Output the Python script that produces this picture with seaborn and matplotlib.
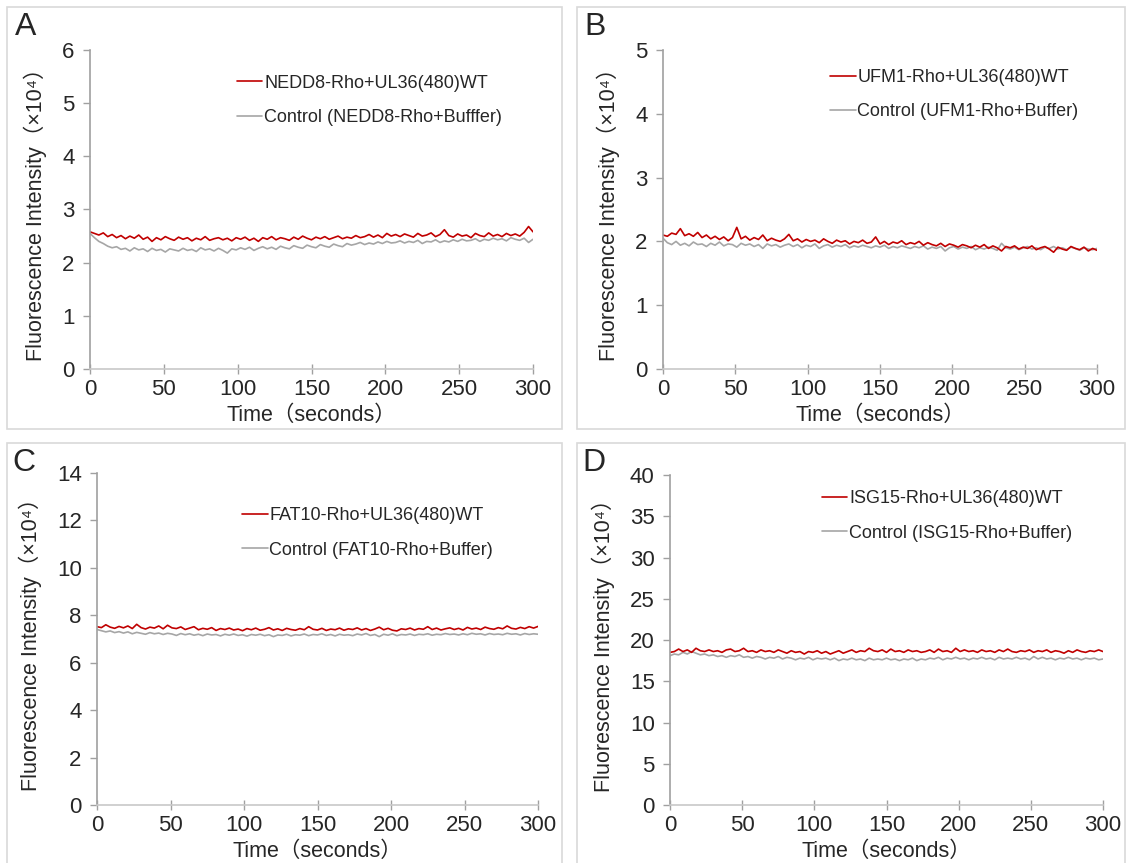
import numpy as np
import pandas as pd
import seaborn as sns
import matplotlib.pyplot as plt
from matplotlib.patches import Rectangle

sns.set_style("white")
plt.rcParams['font.family'] = ['Liberation Sans', 'Noto Sans CJK SC', 'DejaVu Sans']

# time axis, seconds (one reading every 3 s)
time_s = list(range(0, 301, 3))

# panel A : NEDD8
nedd8_wt = [2.58, 2.55, 2.52, 2.56, 2.49, 2.53, 2.47, 2.51, 2.45, 2.50,
            2.46, 2.52, 2.44, 2.48, 2.40, 2.47, 2.43, 2.49, 2.45, 2.42,
            2.48, 2.44, 2.47, 2.41, 2.46, 2.43, 2.49, 2.42, 2.45, 2.47,
            2.43, 2.46, 2.41, 2.47, 2.44, 2.48, 2.42, 2.46, 2.40, 2.47,
            2.44, 2.49, 2.43, 2.47, 2.45, 2.42, 2.48, 2.44, 2.50, 2.46,
            2.43, 2.48, 2.45, 2.49, 2.44, 2.47, 2.50, 2.45, 2.48, 2.46,
            2.51, 2.47, 2.49, 2.53, 2.48, 2.52, 2.47, 2.55, 2.50, 2.53,
            2.49, 2.54, 2.51, 2.48, 2.55, 2.50, 2.52, 2.56, 2.49, 2.53,
            2.62, 2.51, 2.48, 2.54, 2.50, 2.52, 2.47, 2.55, 2.51, 2.49,
            2.56, 2.50, 2.53, 2.49, 2.55, 2.51, 2.54, 2.50, 2.57, 2.68,
            2.58]
nedd8_ctrl = [2.55, 2.47, 2.40, 2.36, 2.31, 2.28, 2.30, 2.25, 2.27, 2.22,
              2.28, 2.24, 2.26, 2.21, 2.27, 2.23, 2.25, 2.20, 2.26, 2.24,
              2.22, 2.27, 2.23, 2.25, 2.21, 2.28, 2.24, 2.26, 2.22, 2.27,
              2.23, 2.18, 2.26, 2.24, 2.28, 2.25, 2.29, 2.23, 2.27, 2.30,
              2.26, 2.29, 2.25, 2.31, 2.28, 2.26, 2.32, 2.29, 2.27, 2.33,
              2.30, 2.28, 2.34, 2.31, 2.29, 2.35, 2.32, 2.30, 2.36, 2.33,
              2.35, 2.38, 2.34, 2.37, 2.35, 2.39, 2.36, 2.40, 2.37, 2.38,
              2.41, 2.37, 2.40, 2.38, 2.42, 2.36, 2.40, 2.39, 2.43, 2.38,
              2.41, 2.39, 2.43, 2.40, 2.44, 2.41, 2.42, 2.45, 2.40, 2.44,
              2.42, 2.46, 2.43, 2.45, 2.41, 2.47, 2.44, 2.42, 2.46, 2.38,
              2.44]

# panel B : UFM1
ufm1_wt = [2.10, 2.08, 2.13, 2.11, 2.20, 2.09, 2.12, 2.08, 2.14, 2.06,
           2.10, 2.04, 2.08, 2.03, 2.07, 2.01, 2.06, 2.22, 2.04, 2.08,
           2.02, 2.06, 2.03, 2.10, 2.01, 2.05, 2.02, 2.00, 2.04, 2.11,
           2.01, 2.04, 1.99, 2.03, 2.00, 2.02, 1.98, 2.04, 2.00, 1.97,
           2.02, 1.99, 2.01, 1.96, 2.00, 1.98, 2.02, 1.97, 1.99, 2.07,
           1.96, 2.00, 1.95, 1.99, 1.97, 2.01, 1.95, 1.98, 1.96, 2.00,
           1.94, 1.98, 1.95, 1.93, 1.97, 1.92, 1.96, 1.94, 1.91, 1.95,
           1.93, 1.90, 1.94, 1.91, 1.95, 1.89, 1.93, 1.90, 1.85, 1.92,
           1.90, 1.93, 1.88, 1.91, 1.89, 1.93, 1.87, 1.90, 1.92, 1.88,
           1.83, 1.91, 1.88, 1.86, 1.92, 1.89, 1.87, 1.91, 1.85, 1.89,
           1.86]
ufm1_ctrl = [2.05, 1.98, 1.95, 2.00, 1.94, 1.97, 1.93, 1.99, 1.95, 1.96,
             1.92, 1.97, 1.94, 1.99, 1.93, 1.96, 1.95, 1.91, 1.97, 1.94,
             1.96, 1.92, 1.95, 1.89, 1.96, 1.93, 1.95, 1.91, 1.94, 1.96,
             1.92, 1.95, 1.90, 1.94, 1.92, 1.96, 1.89, 1.93, 1.95, 1.91,
             1.94, 1.92, 1.95, 1.90, 1.93, 1.91, 1.94, 1.92, 1.90, 1.93,
             1.91, 1.94, 1.89, 1.92, 1.90, 1.93, 1.91, 1.89, 1.92, 1.90,
             1.93, 1.88, 1.91, 1.89, 1.92, 1.85, 1.90, 1.92, 1.88, 1.91,
             1.89, 1.92, 1.87, 1.90, 1.88, 1.91, 1.89, 1.86, 1.97, 1.90,
             1.88, 1.91, 1.87, 1.90, 1.92, 1.88, 1.90, 1.87, 1.91, 1.89,
             1.92, 1.88, 1.90, 1.87, 1.91, 1.89, 1.86, 1.90, 1.88, 1.87,
             1.89]

# panel C : FAT10
fat10_wt = [7.52, 7.48, 7.60, 7.50, 7.45, 7.53, 7.47, 7.55, 7.44, 7.62,
            7.48, 7.42, 7.50, 7.46, 7.55, 7.43, 7.58, 7.47, 7.44, 7.51,
            7.40, 7.46, 7.52, 7.39, 7.45, 7.41, 7.48, 7.36, 7.44, 7.40,
            7.46, 7.38, 7.42, 7.35, 7.44, 7.39, 7.46, 7.37, 7.41, 7.48,
            7.38, 7.43, 7.36, 7.45, 7.40, 7.37, 7.44, 7.39, 7.52, 7.41,
            7.38, 7.45, 7.36, 7.42, 7.39, 7.46, 7.37, 7.43, 7.40, 7.47,
            7.38, 7.44, 7.36, 7.42, 7.50, 7.39, 7.45, 7.37, 7.34, 7.43,
            7.40, 7.46, 7.38, 7.44, 7.41, 7.52, 7.40, 7.46, 7.38, 7.43,
            7.47, 7.40, 7.45, 7.38, 7.49, 7.42, 7.46, 7.40, 7.50, 7.44,
            7.41, 7.48, 7.43, 7.55, 7.45, 7.42, 7.49, 7.44, 7.52, 7.46,
            7.53]
fat10_ctrl = [7.40, 7.35, 7.30, 7.34, 7.27, 7.31, 7.25, 7.30, 7.22, 7.28,
              7.24, 7.20, 7.27, 7.22, 7.25, 7.19, 7.24, 7.21, 7.15, 7.23,
              7.18, 7.22, 7.16, 7.20, 7.14, 7.21, 7.17, 7.19, 7.13, 7.20,
              7.16, 7.21, 7.15, 7.18, 7.12, 7.19, 7.16, 7.20, 7.14, 7.18,
              7.10, 7.17, 7.15, 7.20, 7.13, 7.18, 7.16, 7.21, 7.14, 7.19,
              7.17, 7.22, 7.15, 7.19, 7.13, 7.20, 7.16, 7.18, 7.14, 7.21,
              7.17, 7.23, 7.15, 7.19, 7.10, 7.20, 7.16, 7.22, 7.14, 7.19,
              7.17, 7.21, 7.15, 7.20, 7.18, 7.22, 7.16, 7.20, 7.18, 7.23,
              7.19, 7.21, 7.17, 7.22, 7.18, 7.24, 7.20, 7.22, 7.17, 7.23,
              7.19, 7.21, 7.18, 7.24, 7.20, 7.22, 7.17, 7.23, 7.19, 7.22,
              7.20]

# panel D : ISG15
isg15_wt = [18.5, 18.6, 18.9, 18.6, 18.8, 18.5, 19.0, 18.7, 18.6, 18.8,
            18.6, 18.7, 18.5, 18.8, 18.9, 18.6, 18.7, 19.0, 18.6, 18.7,
            18.5, 18.8, 18.6, 18.7, 18.5, 18.8, 18.6, 18.4, 18.7, 18.5,
            18.6, 18.3, 18.6, 18.5, 18.7, 18.4, 18.6, 18.3, 18.5, 18.7,
            18.4, 18.6, 18.8, 18.5, 18.7, 18.6, 19.0, 18.7, 18.6, 18.8,
            18.5, 18.9, 18.6, 18.7, 18.5, 18.8, 18.6, 18.7, 18.5, 18.6,
            18.8, 18.5, 18.9, 18.6, 18.7, 18.5, 19.0, 18.6, 18.8, 18.6,
            18.7, 18.5, 18.8, 18.6, 18.7, 18.5, 18.8, 18.6, 18.9, 18.6,
            18.5, 18.7, 18.6, 18.8, 18.5, 18.7, 18.6, 18.8, 18.5, 18.7,
            18.6, 18.4, 18.7, 18.5, 18.8, 18.6, 18.5, 18.7, 18.6, 18.8,
            18.6]
isg15_ctrl = [18.1, 18.3, 18.2, 18.5, 18.3, 18.6, 18.4, 18.2, 18.3, 18.1,
              18.2, 18.0, 18.1, 17.9, 18.1, 18.0, 18.2, 17.9, 18.0, 17.8,
              18.0, 17.9, 17.7, 17.9, 17.8, 18.0, 17.7, 17.9, 17.8, 17.6,
              17.8, 17.7, 17.9, 17.6, 17.8, 17.7, 17.8, 17.6, 17.8, 17.5,
              17.7, 17.6, 17.8, 17.6, 17.7, 17.5, 17.8, 17.6, 17.7, 17.6,
              17.8, 17.6, 17.7, 17.5, 17.7, 17.6, 17.8, 17.5, 17.7, 17.6,
              17.8, 17.7, 17.9, 17.6, 17.8, 17.7, 17.9, 17.7, 17.8, 17.6,
              17.8, 17.7, 17.9, 17.7, 17.8, 17.6, 17.9, 17.7, 17.8, 17.7,
              17.9, 17.7, 17.8, 17.6, 18.0, 17.7, 17.9, 17.7, 17.8, 17.6,
              17.8, 17.7, 17.9, 17.7, 17.8, 17.6, 17.8, 17.7, 17.8, 17.6,
              17.7]

panel_letters = ['A', 'B', 'C', 'D']
wt_labels = ['NEDD8-Rho+UL36(480)WT', 'UFM1-Rho+UL36(480)WT',
             'FAT10-Rho+UL36(480)WT', 'ISG15-Rho+UL36(480)WT']
ctrl_labels = ['Control (NEDD8-Rho+Bufffer)', 'Control (UFM1-Rho+Buffer)',
               'Control (FAT10-Rho+Buffer)', 'Control (ISG15-Rho+Buffer)']
y_max = [6, 5, 14, 40]
y_step = [1, 1, 2, 5]
wt_series = [nedd8_wt, ufm1_wt, fat10_wt, isg15_wt]
ctrl_series = [nedd8_ctrl, ufm1_ctrl, fat10_ctrl, isg15_ctrl]

RED = '#c00000'
GREY = '#a6a6a6'
AXIS = '#a0a0a0'
W, H = 1129, 863

# pixel boxes: (left, right, top, bottom) of the axes and panel frames
ax_px = [(90, 533, 50, 369), (663, 1097, 50, 369),
         (97, 538, 473, 805), (670, 1103, 475, 805)]
frame_px = [(7, 562, 7, 429), (577, 1125, 7, 429),
            (7, 562, 443, 870), (577, 1125, 443, 870)]
legend_anchor = [(0.316, 0.945), (0.369, 0.962), (0.313, 0.918), (0.334, 0.975)]
letter_px = [(15, 12), (584, 12), (12, 448), (582, 448)]

fig = plt.figure(figsize=(W / 100, H / 100), dpi=100)

for i in range(4):
    l, r, t, b = frame_px[i]
    fig.patches.append(Rectangle((l / W, 1 - b / H), (r - l) / W, (b - t) / H,
                                 transform=fig.transFigure, fill=False,
                                 edgecolor='#d9d9d9', linewidth=1.2))

    l, r, t, b = ax_px[i]
    ax = fig.add_axes([l / W, 1 - b / H, (r - l) / W, (b - t) / H])
    df = pd.DataFrame({'time': time_s, 'wt': wt_series[i], 'ctrl': ctrl_series[i]})
    sns.lineplot(data=df, x='time', y='ctrl', ax=ax, color=GREY, linewidth=1.2,
                 label=ctrl_labels[i])
    sns.lineplot(data=df, x='time', y='wt', ax=ax, color=RED, linewidth=1.2,
                 label=wt_labels[i])

    ax.set_xlim(0, 300)
    ax.set_ylim(0, y_max[i])
    ax.set_xticks(range(0, 301, 50))
    yt = np.arange(0, y_max[i] + 0.01, y_step[i])
    ax.set_yticks(yt)
    ax.set_yticklabels([str(int(v)) for v in yt])
    ax.tick_params(axis='both', labelsize=16, width=1, color=AXIS)
    ax.tick_params(axis='y', length=5, direction='out', left=True, pad=6)
    ax.tick_params(axis='x', length=7, direction='inout', bottom=True, pad=4)
    for side in ['top', 'right']:
        ax.spines[side].set_visible(False)
    ax.spines['left'].set_color(AXIS)
    ax.spines['left'].set_linewidth(1.2)
    ax.spines['bottom'].set_color('#c8c8c8')
    ax.spines['bottom'].set_linewidth(1.2)

    ax.set_xlabel('Time（seconds）', fontsize=15.5, labelpad=3)
    ax.set_ylabel('Fluorescence Intensity（×10⁴）', fontsize=15.5, labelpad=11)

    handles, labels = ax.get_legend_handles_labels()
    ax.legend(handles[::-1], labels[::-1], loc='upper left',
              bbox_to_anchor=legend_anchor[i], frameon=False, fontsize=13,
              handlelength=1.4, handletextpad=0.1, labelspacing=0.95,
              borderaxespad=0)

    lx, ly = letter_px[i]
    fig.text(lx / W, 1 - ly / H, panel_letters[i], fontsize=23, va='top', ha='left')

fig.savefig('out.png', dpi=100)
